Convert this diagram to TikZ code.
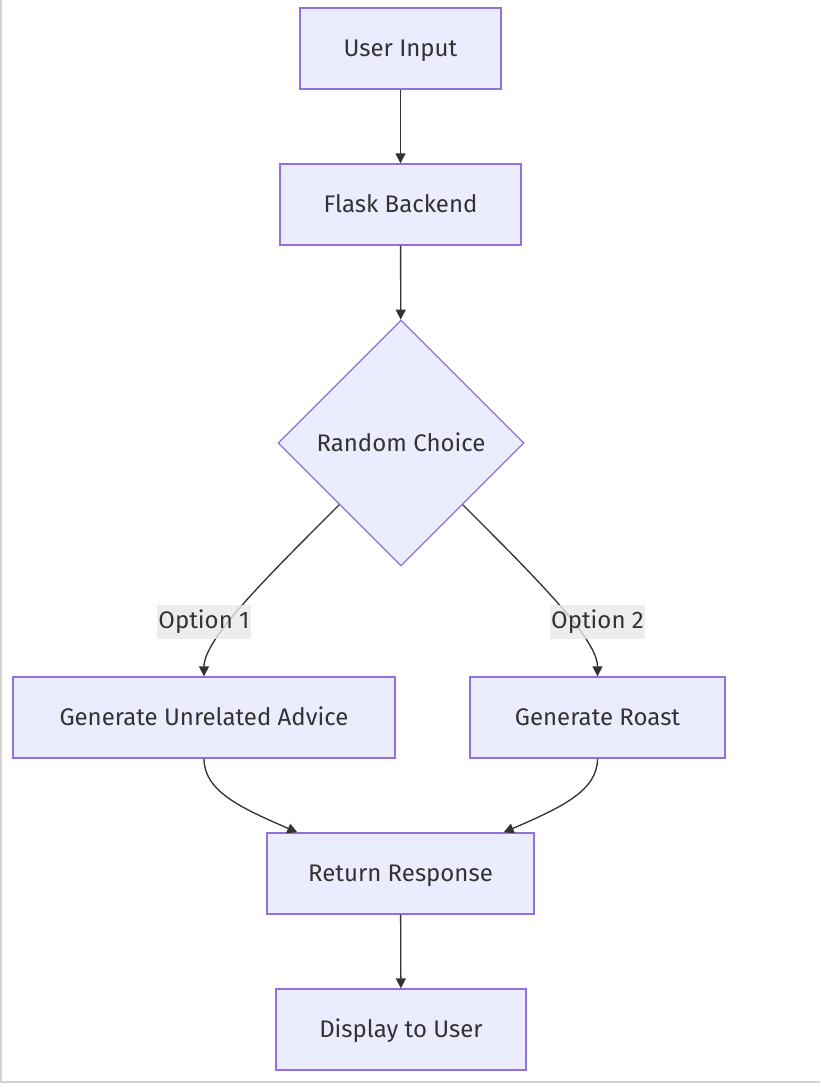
\documentclass[tikz,border=0pt]{standalone}
\usepackage{fontspec}
\setmainfont{Fira Sans}
\usetikzlibrary{shapes.geometric, arrows.meta, calc}

\definecolor{boxfill}{HTML}{ECECFF}
\definecolor{boxline}{HTML}{9370DB}
\definecolor{inkgray}{HTML}{333333}
\definecolor{labelbg}{HTML}{E8E8E8}
\definecolor{framegray}{HTML}{D3D3D3}

\begin{document}
\begin{tikzpicture}[x=0.75pt, y=-0.75pt,
    box/.style={draw=boxline, line width=1pt, fill=boxfill, text=inkgray, minimum height=60.75pt, inner sep=0pt, text height=16.5pt, text depth=4pt, font=\fontsize{18}{21}\selectfont},
    choicebox/.style={box, diamond, aspect=1, minimum width=184.5pt, minimum height=184.5pt},
    link/.style={-{Triangle[length=7.5pt, width=7.5pt]}, draw=inkgray, line width=1pt},
    tag/.style={fill=labelbg, fill opacity=0.8, text opacity=1, text=inkgray, inner xsep=1pt, inner ysep=0pt, minimum height=26pt, text height=14pt, text depth=4pt, font=\fontsize{18}{21}\selectfont}]

    \useasboundingbox (0,0) rectangle (820,1087);

    % --- Frame ---
    \draw[framegray, line width=1pt] (1,0) -- (1,1082) -- (820,1082);

    % --- Nodes ---

    % 1. Request path (top)
    \node[box, minimum width=150.75pt] (input) at (400.5,48.5) {User Input};
    \node[box, minimum width=180.75pt] (flask) at (400.5,204.5) {Flask Backend};

    % 2. Decision
    \node[choicebox] (choice) at (401,443) {Random Choice};

    % 3. Branches
    \node[box, minimum width=286.5pt] (advice) at (204,717.5) {Generate Unrelated Advice};
    \node[box, minimum width=191.25pt] (roast) at (597.5,717.5) {Generate Roast};

    % 4. Answer path (bottom)
    \node[box, minimum width=200.25pt] (response) at (400.5,873.5) {Return Response};
    \node[box, minimum width=187.5pt] (display) at (401,1029.5) {Display to User};

    % --- Arrows ---

    % Straight down
    \draw[link] (input) -- (flask);
    \draw[link] (flask) -- (choice);

    % Split into the two options
    \draw[link] (choice.south west) .. controls +(-75,75) and +(0,-37) .. (advice.north);
    \draw[link] (choice.south east) .. controls +(75,75) and +(0,-37) .. (roast.north);

    % Merge back
    \draw[link] (advice.south) .. controls +(0,32) and +(-58,-25) .. ($(response.north west)+(31,0)$);
    \draw[link] (roast.south) .. controls +(0,32) and +(58,-25) .. ($(response.north east)+(-31,0)$);

    \draw[link] (response) -- (display);

    % Edge labels (drawn over the curves)
    \node[tag] (opt1) at (204,622) {Option 1};
    \node[tag] (opt2) at (597.5,622) {Option 2};

\end{tikzpicture}
\end{document}
